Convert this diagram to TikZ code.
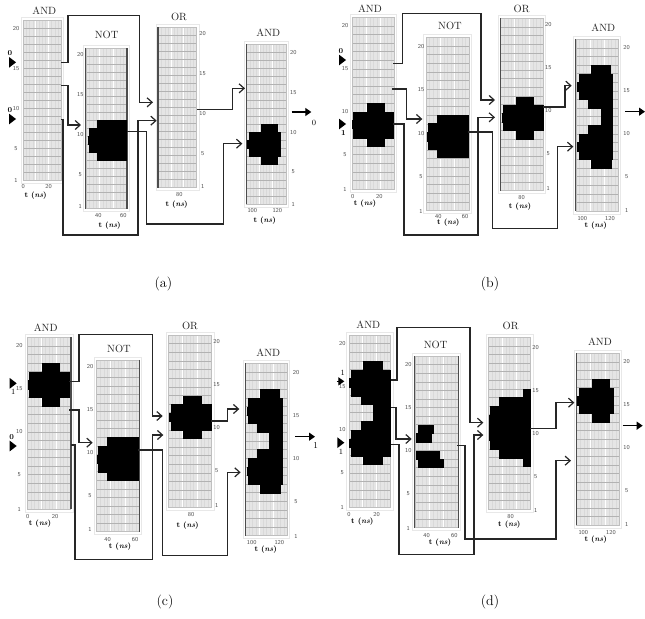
\documentclass[tikz,border=0pt]{standalone}
\usepackage{xcolor}
\usepackage{tikz}
\usetikzlibrary{arrows.meta,fit,shapes.geometric}

\tikzset{
  panelbox/.style={draw=gray!50,line width=0.4pt,inner sep=0pt},
  panelframe/.style={draw=gray!18,line width=0.7pt},
  panelbar/.style={draw=gray!60!black,line width=1.3pt},
  gatetitle/.style={font=\fontsize{10.5}{12}\selectfont,text=black!85},
  ticklabel/.style={font=\sffamily\fontsize{6}{7}\selectfont,text=black!70,inner sep=0pt},
  timelabel/.style={font=\bfseries\fontsize{7.5}{8}\selectfont,inner sep=0pt},
  sublabel/.style={font=\fontsize{14}{16}\selectfont},
  wire/.style={draw=black!85,line width=1.2pt,-{Straight Barb[length=5pt,width=9pt]}},
  outwire/.style={draw=black,line width=1.2pt,-{Triangle[length=6pt,width=8pt]}},
  inmark/.style={isosceles triangle,isosceles triangle apex angle=75,fill=black,minimum size=7pt,inner sep=0pt},
  bitlabel/.style={font=\bfseries\fontsize{7.5}{8}\selectfont,inner sep=0pt},
  pulse/.style={fill=black,draw=black,line width=0.2pt},
}

% name, left, top, right, bottom, x of the numbers, y of the 20
\newcommand{\gatepanel}[7]{
  \draw[panelframe] (#2-7,#3-9) rectangle (#4+7,#5+9);
  \fill[gray!20] (#2,#3) rectangle (#4,#5);
  \foreach \k in {1,...,11}
    \draw[gray!30,line width=0.3pt] ({#2+\k*(#4-#2)/12},#3) -- ({#2+\k*(#4-#2)/12},#5);
  \foreach \k in {4,8}
    \draw[white,line width=0.8pt] ({#2+\k*(#4-#2)/12},#3) -- ({#2+\k*(#4-#2)/12},#5);
  \foreach \k in {1,...,19}
    \draw[gray!60,line width=0.4pt] (#2,{#3+\k*(#5-#3)/20}) -- (#4,{#3+\k*(#5-#3)/20});
  \node[panelbox,fit={(#2,#3) (#4,#5)}] (#1) {};
  \foreach \v in {20,15,10,5,1}
    \node[ticklabel] (#1-\v) at (#6,{#7+(20-\v)*(#5-#3)/20}) {\v};
}
% rows of the black region: top/bottom/left/right
\newcommand{\pulseblock}[1]{
  \foreach \t/\b/\l/\r in {#1}
    \fill[pulse] (\l,\t) rectangle (\r,\b);
}

\begin{document}
\begin{tikzpicture}[x=0.3333pt,y=-0.3333pt]
  \useasboundingbox (0,0) rectangle (1935,1854);

  % (a)
  \begin{scope}
    \gatepanel{aandi}{70}{60}{183}{540}{48}{85}
    \gatepanel{anot}{258}{145}{380}{625}{241}{163}
    \gatepanel{aor}{475}{82}{590}{562}{608}{102}
    \gatepanel{aandii}{740}{133}{858}{612}{880}{157}
    \draw[panelbar] (anot.north west) -- (anot.south west);
    \draw[panelbar] (anot.north east) -- (anot.south east);
    \draw[panelbar] (aor.north west) -- (aor.south west);
    \draw[panelbar] (aandii.north west) -- (aandii.south west);
    \pulseblock{360/480/292/378, 385/455/268/378, 408/432/264/270}
    \pulseblock{373/397/782/830, 397/468/748/840, 468/492/782/830, 420/445/742/750}
    \foreach \n/\x/\y/\t in {aand/133/32/AND, anotn/320/105/NOT, aorn/537/52/OR, aandn/805/97/AND}
      \node[gatetitle] (\n) at (\x,\y) {\t};
    \foreach \n/\x/\y/\t in {t1/70/561/0, t2/146/561/20, t3/295/646/40, t4/370/646/60, t5/538/583/80, t6/757/633/100, t7/832/633/120}
      \node[ticklabel] (a\n) at (\x,\y) {\t};
    \foreach \n/\x/\y in {u1/107/586, u2/329/677, u3/530/613, u4/794/662}
      \node[timelabel] (a\n) at (\x,\y) {t (\textit{ns})};
    \node[inmark] (ainp) at (35,187) {};
    \node[inmark] (ainq) at (35,357) {};
    \node[bitlabel] (abitp) at (30,158) {0};
    \node[bitlabel] (abitq) at (30,330) {0};
    \coordinate (a1s) at (183,187); \coordinate (a1e) at (459,307);
    \coordinate (a2s) at (183,257); \coordinate (a2e) at (243,375);
    \coordinate (a3s) at (183,358); \coordinate (a3e) at (470,362);
    \coordinate (a4s) at (380,394); \coordinate (a4e) at (727,431);
    \coordinate (a5s) at (590,329); \coordinate (a5e) at (735,265);
    \coordinate (aos) at (875,336); \coordinate (aoe) at (934,336);
    \draw[wire] (a1s) -| (204,47) -| (418,307) -- (a1e);
    \draw[wire] (a2s) -| (204,375) -- (a2e);
    \draw[wire] (a3s) -| (189,705) -| (414,362) -- (a3e);
    \draw[wire] (a4s) -| (440,672) -| (670,431) -- (a4e);
    \draw[wire] (a5s) -| (697,265) -- (a5e);
    \draw[outwire] (aos) -- (aoe);
    \node[bitlabel,font=\fontsize{8}{9}\selectfont] (abito) at (942,370) {0};
    \node[sublabel] (acap) at (490,853) {(a)};
  \end{scope}

  % (b)
  \begin{scope}[shift={(975,0)}]
    \gatepanel{bandi}{83}{52}{208}{567}{60}{78}
    \gatepanel{bnot}{303}{112}{432}{632}{288}{140}
    \gatepanel{bor}{527}{55}{655}{572}{670}{73}
    \gatepanel{bandii}{753}{118}{880}{633}{905}{143}
    \draw[panelbar] (bor.north west) -- (bor.south west);
    \draw[panelbar] (bandii.north west) -- (bandii.south west);
    \pulseblock{310/335/125/178, 335/413/85/205, 413/438/125/178, 360/385/82/88}
    \pulseblock{345/472/337/430, 370/447/310/430, 396/422/306/312}
    \pulseblock{290/315/573/625, 315/390/535/653, 390/416/573/625, 340/365/531/537}
    \pulseblock{196/222/798/855, 222/298/762/862, 298/324/790/862, 324/376/828/862, 376/402/790/862, 402/478/762/862, 478/504/798/858, 246/272/757/764, 427/452/757/764}
    \foreach \n/\x/\y/\t in {bandn/135/25/AND, bnotn/375/78/NOT, borin/590/28/OR, bandm/835/83/AND}
      \node[gatetitle] (\n) at (\x,\y) {\t};
    \foreach \n/\x/\y/\t in {t1/83/590/0, t2/163/590/20, t3/340/650/40, t4/420/650/60, t5/590/592/80, t6/772/655/100, t7/855/655/120}
      \node[ticklabel] (b\n) at (\x,\y) {\t};
    \foreach \n/\x/\y in {u1/120/611, u2/370/668, u3/585/620, u4/812/677}
      \node[timelabel] (b\n) at (\x,\y) {t (\textit{ns})};
    \node[inmark] (binp) at (50,180) {};
    \node[inmark] (binq) at (50,372) {};
    \node[bitlabel] (bbitp) at (48,152) {0};
    \node[bitlabel] (bbitq) at (55,398) {1};
    \coordinate (b1s) at (205,190); \coordinate (b1e) at (510,300);
    \coordinate (b2s) at (202,267); \coordinate (b2e) at (292,357);
    \coordinate (b3s) at (205,372); \coordinate (b3e) at (510,352);
    \coordinate (b4s) at (430,396); \coordinate (b4e) at (745,440);
    \coordinate (b5s) at (655,321); \coordinate (b5e) at (740,257);
    \coordinate (bos) at (900,335); \coordinate (boe) at (960,335);
    \draw[wire] (b1s) -| (233,40) -| (468,300) -- (b1e);
    \draw[wire] (b2s) -| (245,357) -- (b2e);
    \draw[wire] (b3s) -| (237,705) -| (459,352) -- (b3e);
    \draw[wire] (b4s) -| (502,685) -| (697,440) -- (b4e);
    \draw[wire] (b5s) -| (720,257) -- (b5e);
    \draw[outwire] (bos) -- (boe);
    \node[sublabel] (bcap) at (495,853) {(b)};
  \end{scope}

  % (c)
  \begin{scope}[shift={(0,960)}]
    \gatepanel{candi}{82}{52}{212}{567}{58}{78}
    \gatepanel{cnot}{290}{120}{418}{635}{270}{140}
    \gatepanel{cor}{505}{45}{635}{562}{650}{65}
    \gatepanel{candii}{737}{130}{862}{647}{888}{157}
    \draw[panelbar] (candi.north east) -- (candi.south east);
    \draw[panelbar] (cnot.north east) -- (cnot.south east);
    \draw[panelbar] (candii.north west) -- (candii.south west);
    \pulseblock{130/155/125/177, 155/232/87/207, 232/258/125/177, 180/206/83/89}
    \pulseblock{352/480/322/413, 378/455/295/413, 405/430/291/297}
    \pulseblock{228/253/550/603, 253/330/512/632, 330/355/550/603, 278/303/508/514}
    \pulseblock{208/234/780/837, 234/310/745/845, 310/336/772/845, 336/388/808/845, 388/414/772/845, 414/492/745/845, 492/518/780/840, 260/285/740/747, 440/465/740/747}
    \foreach \n/\x/\y/\t in {candn/137/23/AND, cnotn/357/87/NOT, corn/570/18/OR, candm/805/97/AND}
      \node[gatetitle] (\n) at (\x,\y) {\t};
    \foreach \n/\x/\y/\t in {t1/83/590/0, t2/165/590/20, t3/323/658/40, t4/405/658/60, t5/573/585/80, t6/755/668/100, t7/838/668/120}
      \node[ticklabel] (c\n) at (\x,\y) {\t};
    \foreach \n/\x/\y in {u1/120/610, u2/360/680, u3/563/617, u4/797/690}
      \node[timelabel] (c\n) at (\x,\y) {t (\textit{ns})};
    \node[inmark] (cinp) at (37,190) {};
    \node[inmark] (cinq) at (37,378) {};
    \node[bitlabel,font=\fontsize{8}{9}\selectfont] (cbitp) at (40,215) {1};
    \node[bitlabel] (cbitq) at (35,350) {0};
    \coordinate (c1s) at (208,185); \coordinate (c1e) at (488,288);
    \coordinate (c2s) at (208,270); \coordinate (c2e) at (278,368);
    \coordinate (c3s) at (212,375); \coordinate (c3e) at (490,345);
    \coordinate (c4s) at (413,390); \coordinate (c4e) at (722,457);
    \coordinate (c5s) at (632,303); \coordinate (c5e) at (718,267);
    \coordinate (cos) at (885,350); \coordinate (coe) at (945,350);
    \draw[wire] (c1s) -| (237,44) -| (458,288) -- (c1e);
    \draw[wire] (c2s) -| (237,368) -- (c2e);
    \draw[wire] (c3s) -| (225,718) -| (458,345) -- (c3e);
    \draw[wire] (c4s) -| (487,707) -| (682,457) -- (c4e);
    \draw[wire] (c5s) -| (682,267) -- (c5e);
    \draw[outwire] (cos) -- (coe);
    \node[bitlabel,font=\fontsize{9}{10}\selectfont] (cbito) at (947,375) {1};
    \node[sublabel] (ccap) at (495,845) {(c)};
  \end{scope}

  % (d)
  \begin{scope}[shift={(975,960)}]
    \gatepanel{dandi}{72}{45}{197}{562}{52}{70}
    \gatepanel{dnot}{270}{108}{400}{623}{250}{135}
    \gatepanel{dor}{490}{52}{617}{567}{632}{83}
    \gatepanel{dandii}{755}{100}{883}{615}{905}{125}
    \draw[panelbar] (dnot.north west) -- (dnot.south west);
    \draw[panelbar] (dnot.north east) -- (dnot.south east);
    \draw[panelbar] (dandii.north west) -- (dandii.south west);
    \pulseblock{124/150/115/172, 150/228/77/195, 228/252/107/195, 252/304/145/195, 304/330/107/195, 330/407/77/195, 407/432/115/172, 175/200/72/79, 356/381/72/79}
    \pulseblock{315/340/279/323, 340/365/273/318, 392/417/273/343, 417/442/279/355}
    \pulseblock{207/232/595/615, 232/258/521/615, 258/387/496/615, 285/360/491/498, 387/413/521/615, 413/438/595/615}
    \pulseblock{178/204/800/852, 204/280/762/864, 280/306/800/852, 229/255/757/764}
    \foreach \n/\x/\y/\t in {dandn/130/15/AND, dnotn/332/75/NOT, dorn/557/18/OR, dandm/825/65/AND}
      \node[gatetitle] (\n) at (\x,\y) {\t};
    \foreach \n/\x/\y/\t in {t1/72/584/0, t2/155/584/20, t3/305/647/40, t4/388/647/60, t5/557/590/80, t6/775/638/100, t7/858/638/120}
      \node[ticklabel] (d\n) at (\x,\y) {\t};
    \foreach \n/\x/\y in {u1/112/604, u2/345/667, u3/553/615, u4/812/658}
      \node[timelabel] (d\n) at (\x,\y) {t (\textit{ns})};
    \coordinate (dips) at (35,184); \coordinate (dipe) at (58,184);
    \node[inmark] (dinq) at (45,368) {};
    \draw[outwire] (dips) -- (dipe);
    \node[bitlabel,font=\fontsize{8}{9}\selectfont] (dbitp) at (53,158) {1};
    \node[bitlabel,font=\fontsize{8}{9}\selectfont] (dbitq) at (48,396) {1};
    \coordinate (d1s) at (197,180); \coordinate (d1e) at (475,308);
    \coordinate (d2s) at (197,262); \coordinate (d2e) at (260,357);
    \coordinate (d3s) at (197,374); \coordinate (d3e) at (475,345);
    \coordinate (d4s) at (397,377); \coordinate (d4e) at (738,422);
    \coordinate (d5s) at (615,326); \coordinate (d5e) at (748,248);
    \coordinate (dos) at (893,317); \coordinate (doe) at (953,317);
    \draw[wire] (d1s) -| (216,22) -| (435,308) -- (d1e);
    \draw[wire] (d2s) -| (213,357) -- (d2e);
    \draw[wire] (d3s) -| (222,703) -| (447,345) -- (d3e);
    \draw[wire] (d4s) -| (420,657) -| (693,422) -- (d4e);
    \draw[wire] (d5s) -| (693,248) -- (d5e);
    \draw[outwire] (dos) -- (doe);
    \node[sublabel] (dcap) at (495,845) {(d)};
  \end{scope}
\end{tikzpicture}
\end{document}
